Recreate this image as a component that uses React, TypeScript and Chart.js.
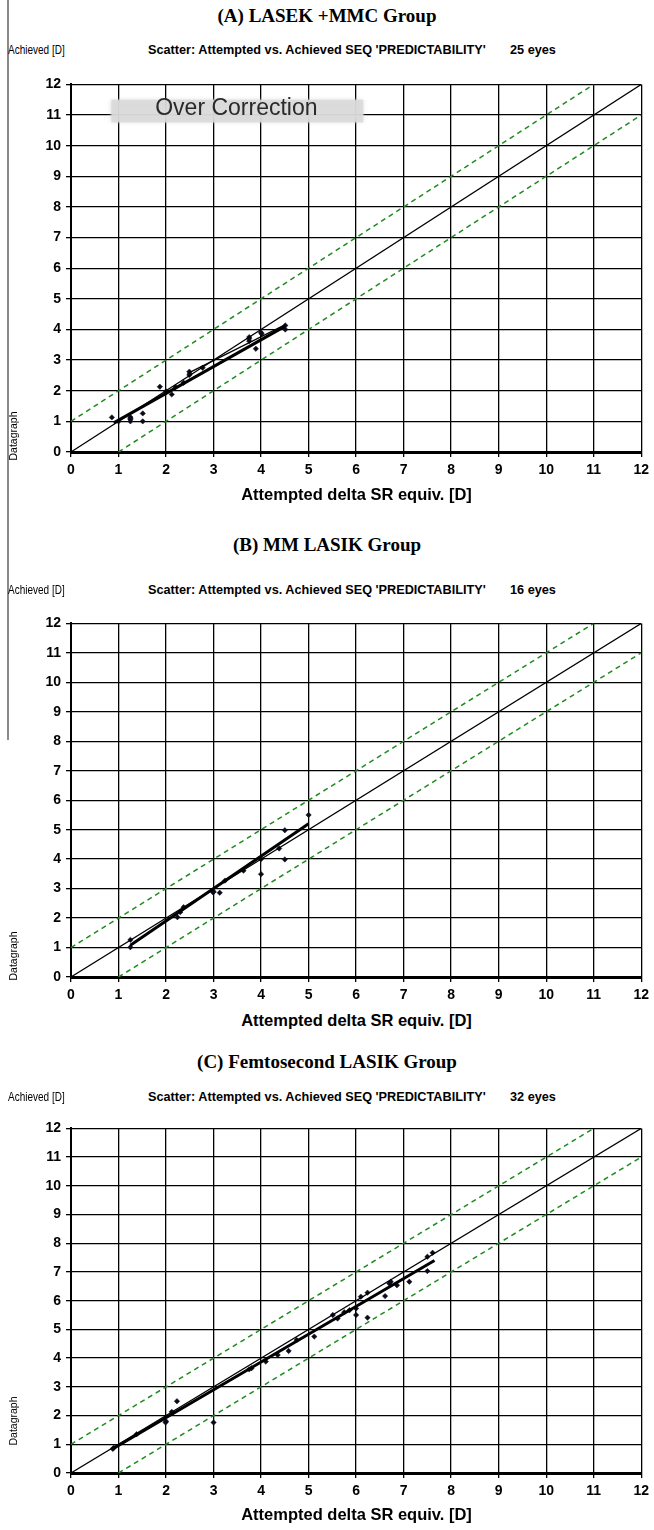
import React, { useEffect, useRef } from "react";
import { Chart, registerables } from "chart.js";

Chart.register(...registerables);

// ---------------- data ----------------
const tickValues = [0, 1, 2, 3, 4, 5, 6, 7, 8, 9, 10, 11, 12];

const panelTitles = ["(A) LASEK +MMC Group", "(B) MM LASIK Group", "(C) Femtosecond LASIK Group"];
const eyeCounts = ["25 eyes", "16 eyes", "32 eyes"];
const xAxisTitle = "Attempted delta SR equiv. [D]";
const yAxisTitle = "Achieved [D]";
const scatterTitle = "Scatter: Attempted vs. Achieved SEQ 'PREDICTABILITY'";
const sideLabel = "Datagraph";
const overLabel = "Over Correction";

// Panel A (LASEK + MMC)
const aAttempted = [0.86, 1.25, 1.25, 1.25, 1.51, 1.51, 1.87, 2.12, 2.2, 2.37, 2.49, 2.49, 2.77, 3.75, 3.75, 3.89, 4.01, 4.51, 4.51, 1.0, 2.0, 2.5, 3.75, 4.0, 1.25];
const aAchieved = [1.13, 1.14, 1.0, 1.07, 1.26, 1.0, 2.13, 1.88, 2.12, 2.26, 2.62, 2.51, 2.75, 3.75, 3.62, 3.37, 3.86, 4.13, 4.0, 1.0, 1.98, 2.55, 3.7, 3.9, 1.1];
const aFitX = [0.9, 4.5];
const aFitY = [0.95, 4.1];
const aTrendX = [2.5, 4.5];
const aTrendY = [2.6, 4.15];

// Panel B (MM LASIK)
const bAttempted = [1.25, 1.25, 2.24, 2.37, 2.99, 3.13, 3.24, 3.63, 4.0, 4.38, 4.5, 4.5, 5.0, 3.0, 4.0, 2.3];
const bAchieved = [1.26, 1.01, 2.03, 2.37, 2.87, 2.86, 3.27, 3.61, 3.49, 4.36, 4.98, 3.99, 5.5, 2.9, 4.0, 2.2];
const bFitX = [1.25, 5.0];
const bFitY = [1.08, 5.2];

// Panel C (Femtosecond LASIK)
const cAttempted = [0.88, 1.38, 1.99, 2.12, 2.23, 3.0, 3.75, 4.35, 4.58, 4.75, 5.12, 5.51, 5.61, 5.86, 6.0, 6.0, 6.1, 6.24, 6.24, 6.61, 6.73, 6.86, 7.12, 7.5, 7.5, 7.61, 0.9, 2.0, 4.1, 5.75, 6.7, 3.8];
const cAchieved = [0.84, 1.35, 1.76, 2.13, 2.5, 1.76, 3.61, 4.11, 4.25, 4.63, 4.75, 5.5, 5.38, 5.67, 5.5, 5.73, 6.14, 6.28, 5.41, 6.16, 6.66, 6.54, 6.66, 7.53, 7.03, 7.67, 0.88, 1.8, 3.88, 5.6, 6.6, 3.65];
const cFitX = [0.9, 7.65];
const cFitY = [0.86, 7.4];

// reference lines
const identityX = [0, 12];
const identityY = [0, 12];
const upperX = [0, 11];
const upperY = [1, 12];
const lowerX = [1, 12];
const lowerY = [0, 11];

// ---------------- layout ----------------
const W = 654;
const PAD_TOP = 12;
const X_AXIS_H = 32;
const FONT_SANS = "'Liberation Sans', Arial, sans-serif";
const FONT_SERIF = "'Liberation Serif', 'Times New Roman', serif";
const GREEN = "#1f8a1f";

type PanelCfg = {
  idx: number;
  plotTop: number;
  plotBottom: number;
  titleY: number;
  headerY: number;
  xTitleY: number;
  sideY: number;
  px: number[];
  py: number[];
  fits: { x: number[]; y: number[]; w: number }[];
  over?: boolean;
};

const panels: PanelCfg[] = [
  {
    idx: 0, plotTop: 83, plotBottom: 452, titleY: 16, headerY: 50, xTitleY: 494, sideY: 436,
    px: aAttempted, py: aAchieved,
    fits: [{ x: aFitX, y: aFitY, w: 3 }, { x: aTrendX, y: aTrendY, w: 1.2 }],
    over: true,
  },
  {
    idx: 1, plotTop: 622, plotBottom: 977, titleY: 545, headerY: 590, xTitleY: 1020, sideY: 956,
    px: bAttempted, py: bAchieved,
    fits: [{ x: bFitX, y: bFitY, w: 3 }],
  },
  {
    idx: 2, plotTop: 1127, plotBottom: 1473, titleY: 1062, headerY: 1097, xTitleY: 1514, sideY: 1421,
    px: cAttempted, py: cAchieved,
    fits: [{ x: cFitX, y: cFitY, w: 3 }],
  },
];

const overBox = { x0: 0.85, x1: 6.15, y0: 10.76, y1: 11.5, tx: 3.48, ty: 11.22 };

const toPts = (xs: number[], ys: number[]) => xs.map((x, i) => ({ x, y: ys[i] }));

const overPlugin = {
  id: "overCorrection",
  beforeDatasetsDraw(chart: any) {
    const { ctx, scales } = chart;
    const xs = scales.x;
    const ys = scales.y;
    const l = xs.getPixelForValue(overBox.x0);
    const r = xs.getPixelForValue(overBox.x1);
    const t = ys.getPixelForValue(overBox.y1);
    const b = ys.getPixelForValue(overBox.y0);
    ctx.save();
    ctx.fillStyle = "rgba(218,218,218,0.85)";
    ctx.shadowColor = "rgba(205,205,205,0.9)";
    ctx.shadowBlur = 4;
    ctx.fillRect(l, t, r - l, b - t);
    ctx.shadowBlur = 0;
    ctx.fillStyle = "#2a2a2a";
    ctx.font = `23px ${FONT_SANS}`;
    ctx.textAlign = "center";
    ctx.textBaseline = "middle";
    ctx.fillText(overLabel, xs.getPixelForValue(overBox.tx), ys.getPixelForValue(overBox.ty));
    ctx.restore();
  },
};

function Panel({ cfg }: { cfg: PanelCfg }) {
  const ref = useRef<HTMLCanvasElement | null>(null);
  const height = PAD_TOP + (cfg.plotBottom - cfg.plotTop) + X_AXIS_H;

  useEffect(() => {
    if (!ref.current) return;
    const tickFont = { family: FONT_SANS, size: 14, weight: "bold" as const };
    const datasets: any[] = [
      {
        data: toPts(upperX, upperY), showLine: true, borderColor: GREEN, borderWidth: 1.5,
        borderDash: [5, 4], pointRadius: 0,
      },
      {
        data: toPts(lowerX, lowerY), showLine: true, borderColor: GREEN, borderWidth: 1.5,
        borderDash: [5, 4], pointRadius: 0,
      },
      {
        data: toPts(identityX, identityY), showLine: true, borderColor: "#000", borderWidth: 1.2,
        pointRadius: 0,
      },
      ...cfg.fits.map((f) => ({
        data: toPts(f.x, f.y), showLine: true, borderColor: "#000", borderWidth: f.w, pointRadius: 0,
      })),
      {
        data: toPts(cfg.px, cfg.py), showLine: false, pointStyle: "rectRot", pointRadius: 2.7,
        backgroundColor: "#0a0a1a", borderColor: "#0a0a1a", borderWidth: 0.5,
      },
    ];
    const setTicks = (s: any) => {
      s.ticks = tickValues.map((v) => ({ value: v }));
    };
    const chart = new Chart(ref.current, {
      type: "scatter",
      data: { datasets },
      options: {
        animation: false,
        responsive: false,
        maintainAspectRatio: false,
        layout: { padding: { top: PAD_TOP, right: 12, left: 0, bottom: 0 } },
        plugins: { legend: { display: false }, tooltip: { enabled: false }, title: { display: false } },
        scales: {
          x: {
            type: "linear", min: 0, max: 12,
            afterBuildTicks: setTicks,
            afterFit: (s: any) => { s.height = X_AXIS_H; },
            ticks: { font: tickFont, color: "#000", padding: 5, maxRotation: 0, autoSkip: false },
            grid: { color: "#000", lineWidth: 1.3, tickLength: 5, drawTicks: true },
            border: { color: "#000", width: 3 },
          },
          y: {
            type: "linear", min: 0, max: 12,
            afterBuildTicks: setTicks,
            afterFit: (s: any) => { s.width = 71; },
            ticks: { font: tickFont, color: "#000", padding: 5, autoSkip: false },
            grid: { color: "#000", lineWidth: 1.3, tickLength: 5, drawTicks: true },
            border: { color: "#000", width: 2 },
          },
        },
      },
      plugins: cfg.over ? [overPlugin] : [],
    } as any);
    return () => chart.destroy();
  }, []);

  const narrow = (left: number, text: string, bold: boolean) => (
    <div
      style={{
        position: "absolute", left, top: cfg.headerY - 8, height: 16, lineHeight: "16px",
        fontFamily: FONT_SANS, fontWeight: bold ? "bold" : "normal", fontSize: bold ? 13.5 : 12.5,
        color: "#000", whiteSpace: "nowrap", transform: `scaleX(${bold ? 0.94 : 0.8})`, transformOrigin: "0 50%",
      }}
    >
      {text}
    </div>
  );

  return (
    <>
      <div
        style={{
          position: "absolute", left: 0, width: W, top: cfg.titleY - 12, height: 24, lineHeight: "24px",
          textAlign: "center", fontFamily: FONT_SERIF, fontWeight: "bold", fontSize: 19, color: "#000",
        }}
      >
        {panelTitles[cfg.idx]}
      </div>
      {narrow(8, yAxisTitle, false)}
      {narrow(148, scatterTitle, true)}
      {narrow(510, eyeCounts[cfg.idx], true)}
      <canvas
        ref={ref}
        width={W}
        height={height}
        style={{ position: "absolute", left: 0, top: cfg.plotTop - PAD_TOP, width: W, height }}
      />
      <div
        style={{
          position: "absolute", left: 71, width: 571, top: cfg.xTitleY - 11, height: 22, lineHeight: "22px",
          textAlign: "center", fontFamily: FONT_SANS, fontWeight: "bold", fontSize: 16.5, color: "#000",
        }}
      >
        {xAxisTitle}
      </div>
      <div
        style={{
          position: "absolute", left: 13 - 30, top: cfg.sideY - 7, width: 60, height: 14, lineHeight: "14px",
          textAlign: "center", transform: "rotate(-90deg)", fontFamily: FONT_SANS, fontSize: 10.5,
          color: "#000", whiteSpace: "nowrap",
        }}
      >
        {sideLabel}
      </div>
    </>
  );
}

export default function App() {
  return (
    <div style={{ position: "absolute", left: 0, top: 0, width: W, height: 1530, background: "#fff", overflow: "hidden" }}>
      <div style={{ position: "absolute", left: 7, top: 0, width: 1.5, height: 740, background: "#8a8a8a" }} />
      {panels.map((p) => (
        <Panel key={p.idx} cfg={p} />
      ))}
    </div>
  );
}
